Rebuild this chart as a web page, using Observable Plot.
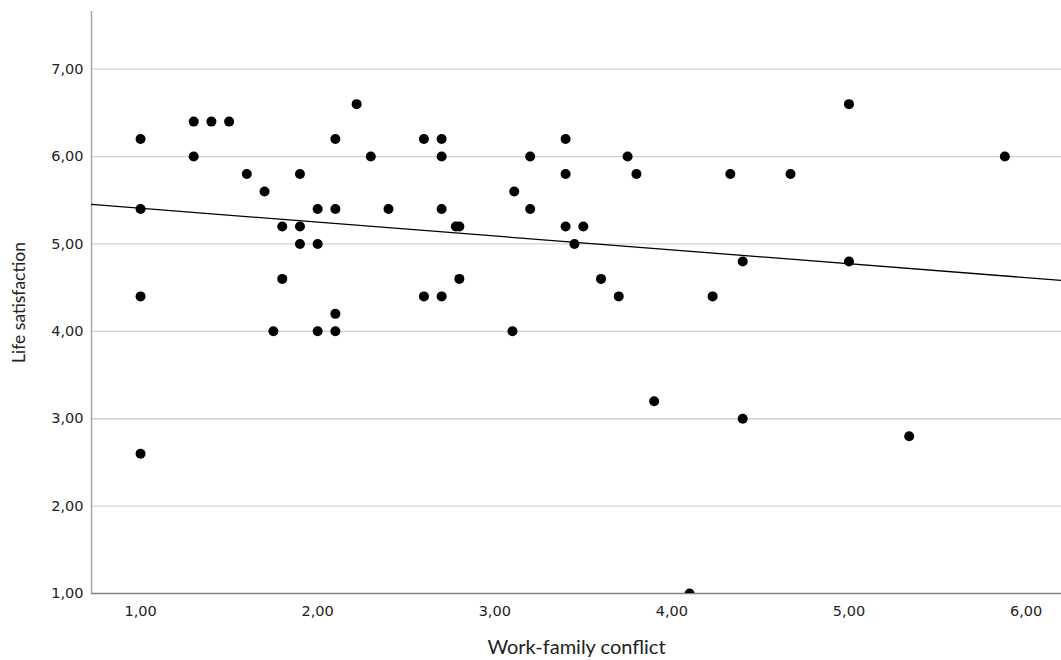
<!DOCTYPE html>
<html>
<head>
<meta charset="utf-8">
<script src="https://cdn.jsdelivr.net/npm/d3@7"></script>
<script src="https://cdn.jsdelivr.net/npm/@observablehq/plot@0.6"></script>
<style>
  html, body { margin: 0; padding: 0; background: #fff; }
  #chart svg { display: block; }
  #chart svg g[aria-label$="tick label"] { font-size: 14.5px !important; font-family: 'DejaVu Sans', Tahoma, sans-serif !important; }
</style>
</head>
<body>
<div id="chart"></div>
<script>
// Work-family conflict (x) and Life satisfaction (y), one entry per respondent
const conflict = [1,1,1,1,1.3,1.3,1.4,1.5,1.6,1.7,1.75,1.8,1.8,1.9,1.9,1.9,2,2,2,2.1,2.1,2.1,2.1,2.22,2.3,2.4,2.6,2.6,2.7,2.7,2.7,2.7,2.78,2.8,2.8,3.1,3.11,3.2,3.2,3.4,3.4,3.4,3.45,3.5,3.6,3.7,3.75,3.8,3.9,4.1,4.23,4.33,4.4,4.4,4.67,5,5,5.34,5.88];
const satisfaction = [6.2,5.4,4.4,2.6,6.4,6.0,6.4,6.4,5.8,5.6,4.0,5.2,4.6,5.8,5.2,5.0,5.4,5.0,4.0,6.2,5.4,4.2,4.0,6.6,6.0,5.4,6.2,4.4,6.2,6.0,5.4,4.4,5.2,5.2,4.6,4.0,5.6,6.0,5.4,6.2,5.8,5.2,5.0,5.2,4.6,4.4,6.0,5.8,3.2,1.0,4.4,5.8,4.8,3.0,5.8,6.6,4.8,2.8,6.0];
const xTicks = [1,2,3,4,5,6];
const yTicks = [1,2,3,4,5,6,7];
const xLabel = "Work-family conflict";
const yLabel = "Life satisfaction";

const data = conflict.map((x, i) => ({x, y: satisfaction[i]}));

// Least-squares fit line computed from the data
const mx = d3.mean(conflict), my = d3.mean(satisfaction);
const slope = d3.sum(data, d => (d.x - mx) * (d.y - my)) / d3.sum(data, d => (d.x - mx) ** 2);
const intercept = my - slope * mx;

const xDomain = [0.723, 6.2];
const yDomain = [1, 7.66];
const fit = xDomain.map(x => ({x, y: intercept + slope * x}));

const fmt = d => d.toFixed(2).replace(".", ",");
const tickFont = "'DejaVu Sans', Tahoma, sans-serif";
const titleFont = "Lato, 'Open Sans', sans-serif";

const chart = Plot.plot({
  width: 1061,
  height: 660,
  marginLeft: 91,
  marginRight: 0,
  marginTop: 11,
  marginBottom: 67,
  style: {fontFamily: tickFont, fontSize: "14px", color: "#222", background: "#fff"},
  x: {domain: xDomain},
  y: {domain: yDomain},
  marks: [
    Plot.ruleY(yTicks.filter(d => d > 1), {stroke: "#d2d2d2", strokeWidth: 1.3}),
    Plot.ruleX([xDomain[0]], {stroke: "#a8a8a8", strokeWidth: 1.5}),
    Plot.ruleY([1], {stroke: "#808080", strokeWidth: 1.5}),
    Plot.axisX(xTicks, {tickSize: 0, tickPadding: 12, tickFormat: fmt, label: null, fill: "#222"}),
    Plot.axisY(yTicks, {tickSize: 0, tickPadding: 8, tickFormat: fmt, label: null, fill: "#222"}),
    Plot.line(fit, {x: "x", y: "y", stroke: "#000", strokeWidth: 1.3, clip: true}),
    Plot.dot(data, {x: "x", y: "y", r: 5, fill: "#000", stroke: "none", clip: true}),
    Plot.text([xLabel], {frameAnchor: "bottom", dy: 54, text: d => d, fontSize: 20, fontFamily: titleFont, fill: "#222", lineAnchor: "middle"}),
    Plot.text([yLabel], {frameAnchor: "left", dx: -72, rotate: -90, text: d => d, fontSize: 17.5, fontFamily: titleFont, fill: "#222", textAnchor: "middle", lineAnchor: "middle"})
  ]
});
document.getElementById("chart").appendChild(chart);
</script>
</body>
</html>
